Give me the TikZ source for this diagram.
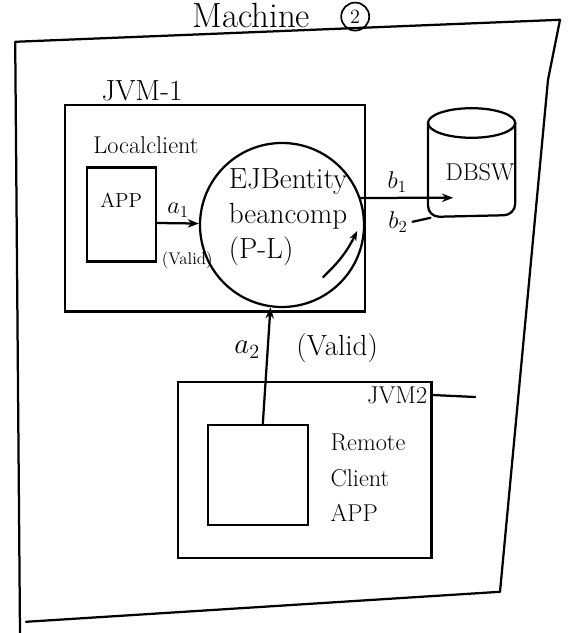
\documentclass[tikz,border=0pt]{standalone}
\usepackage{tikz}
\usetikzlibrary{arrows.meta}

\begin{document}
\begin{tikzpicture}[
  box/.style={draw, line width=1.6pt, inner sep=0pt},
  hand/.style={line width=1.6pt, line cap=round, line join=round}]
  \useasboundingbox (0,0) rectangle (14.425,15.825);
  % Machine 2 (outer frame)
  \draw[hand] (0.5,0) -- (0.38,14.78) -- (14.0,15.33) -- (13.7,13.83) -- (12.5,1.03) -- (0.65,0.28);
  \node[font=\Huge, anchor=base, inner sep=0pt] (mtitle) at (6.28,15.13) {Machine};
  \node[draw, circle, line width=1.2pt, font=\Large, inner sep=0pt, minimum size=0.7cm] (mnum) at (8.88,15.41) {2};
  % JVM-1 with the local client
  \node[box, minimum width=7.5cm, minimum height=5.17cm] (jvma) at (5.38,10.62) {};
  \node[font=\huge] (jvmalbl) at (3.55,13.55) {JVM-1};
  \node[font=\LARGE] (lclbl) at (3.65,12.2) {Localclient};
  \node[box, minimum width=1.72cm, minimum height=2.35cm] (app) at (3.04,10.46) {};
  \node[font=\Large] (applbl) at (3.03,10.83) {APP};
  % EJB entity bean
  \node[draw, circle, line width=1.6pt, minimum size=4.1cm, inner sep=0pt] (ejb) at (7.05,10.2) {};
  \node[font=\huge, align=left] (ejblbl) at (7.2,10.4) {EJBentity\\beancomp\\(P-L)};
  \draw[hand, -{Stealth[length=8pt]}] ([yshift=-0.21cm]app.east) -- (ejb.179)
    node[midway, above, font=\LARGE] {$a_1$};
  \node[font=\large] (valida) at (4.68,9.33) {(Valid)};
  % database
  \draw[hand] (11.79,12.75) ellipse (1.09 and 0.37);
  \draw[hand, rounded corners=8pt] (10.7,12.75) -- (10.7,10.4) -- (12.88,10.45) -- (12.88,12.75);
  \node[font=\LARGE] (db) at (12.0,11.53) {DBSW};
  \coordinate (dbin) at (11.33,10.88);
  \draw[hand, -{Stealth[length=8pt]}] (ejb.19) -- (dbin);
  \node[font=\LARGE] (bone) at (9.93,11.28) {$b_1$};
  \node[font=\LARGE] (btwo) at (9.95,10.28) {$b_2$};
  \draw[hand] (btwo.east) -- ++(0.45,0.1);
  \coordinate (retfrom) at (8.08,8.9);
  \coordinate (retto) at (8.93,10.05);
  \draw[hand, -{Stealth[length=7pt]}] (retfrom) to[bend right=10] (retto);
  % JVM2 with the remote client
  \node[box, minimum width=6.33cm, minimum height=4.4cm] (jvmb) at (7.62,4.08) {};
  \node[font=\LARGE] (jvmblbl) at (9.93,5.95) {JVM2};
  \draw[hand] (jvmblbl.east) -- (11.88,5.9);
  \node[box, minimum width=2.5cm, minimum height=2.5cm] (rc) at (6.45,3.95) {};
  \node[font=\LARGE, align=left] (rclbl) at (9.2,3.88) {Remote\\[3pt]Client\\[3pt]APP};
  \draw[hand, -{Stealth[length=8pt]}] ([xshift=0.12cm]rc.north) -- (ejb.262);
  \node[font=\huge] (atwo) at (6.18,7.08) {$a_2$};
  \node[font=\huge] (validb) at (8.43,7.13) {(Valid)};
\end{tikzpicture}
\end{document}
